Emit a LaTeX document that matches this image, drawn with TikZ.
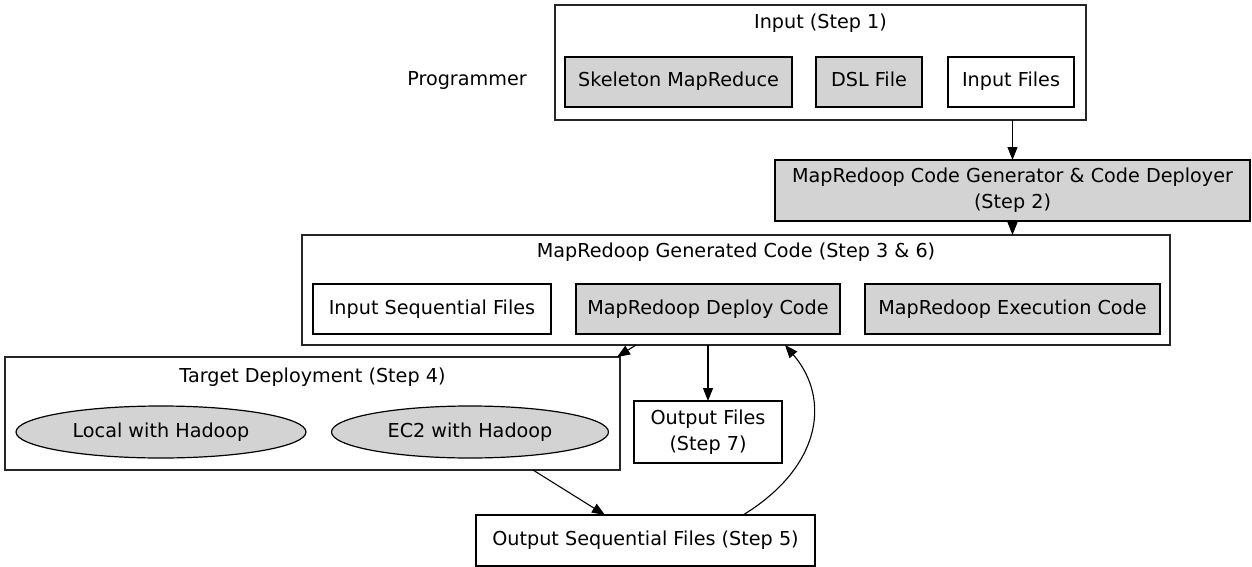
\documentclass[tikz,border=0pt]{standalone}
\usepackage{fontspec}
\setmainfont{DejaVu Sans}
\usetikzlibrary{shapes.geometric,arrows.meta,calc}
\definecolor{gvgray}{HTML}{D3D3D3}
\begin{document}
\begin{tikzpicture}[x=0.5pt,y=-0.5pt,
  font=\fontsize{9.6}{13}\selectfont,
  oneline/.style={text height=7.2pt, text depth=2.2pt},
  box/.style={draw, rectangle, inner sep=0pt, outer sep=0pt, line width=0.6pt},
  gbox/.style={box, fill=gvgray},
  cluster/.style={draw=black!85, rectangle, inner sep=0pt, outer sep=0pt, line width=0.7pt},
  ell/.style={draw, ellipse, fill=gvgray, inner sep=0pt, outer sep=0pt, line width=0.6pt, oneline},
  cltitle/.style={inner sep=0pt, oneline},
  arr/.style={-{Triangle[length=6.5pt,width=5pt]}, line width=0.55pt}]
\fill[white] (0,0) rectangle (1252,567);
\useasboundingbox (0,0) rectangle (1252,567);

% Step 1: inputs
\node[cluster, minimum width=265.5pt, minimum height=57.5pt] (inpc) at (820.5,62.5) {};
\node[cltitle] (inpt) at ($(inpc.north)+(0,19)$) {Input (Step 1)};
\node[gbox, oneline, minimum width=113.5pt, minimum height=25pt] (skel) at (678.5,82) {Skeleton MapReduce};
\node[gbox, oneline, minimum width=53pt, minimum height=25pt] (dsl) at (869,82) {DSL File};
\node[box, oneline, minimum width=63pt, minimum height=25pt] (infiles) at (1011,82) {Input Files};
\node[oneline] (prog) at (467,81) {Programmer};

% Step 2: generator
\node[gbox, minimum width=237.5pt, minimum height=30.5pt, align=center] (gen) at (1012.5,190.5)
  {MapRedoop Code Generator \& Code Deployer\\(Step 2)};

% Steps 3 & 6: generated code
\node[cluster, minimum width=434pt, minimum height=55pt] (genc) at (736,290) {};
\node[cltitle] (gent) at ($(genc.north)+(0,17)$) {MapRedoop Generated Code (Step 3 \& 6)};
\node[box, oneline, minimum width=119pt, minimum height=25pt] (insq) at (432,309) {Input Sequential Files};
\node[gbox, oneline, minimum width=132pt, minimum height=25pt] (dep) at (708,309) {MapRedoop Deploy Code};
\node[gbox, oneline, minimum width=147.5pt, minimum height=25pt] (exe) at (1012.5,309) {MapRedoop Execution Code};

% Step 4: deployment targets
\node[cluster, minimum width=307.5pt, minimum height=56.5pt] (tgt) at (312.5,413.5) {};
\node[cltitle] (tgtt) at ($(tgt.north)+(0,20)$) {Target Deployment (Step 4)};
\node[ell, minimum width=145pt, minimum height=26pt] (local) at (161,432) {Local with Hadoop};
\node[ell, minimum width=138.5pt, minimum height=26pt] (ec2) at (470,432) {EC2 with Hadoop};

% Outputs
\node[box, minimum width=74pt, minimum height=31pt, align=center] (outf) at (708,432) {Output Files\\(Step 7)};
\node[box, oneline, minimum width=169.5pt, minimum height=25.5pt] (outseq) at (645.5,540.5) {Output Sequential Files (Step 5)};

% Connectors
\draw[arr] (inpc.south -| gen.north) -- (gen.north);
\draw[arr] (gen.south) -- (gen.south |- genc.north);
\draw[arr] ($(genc.south west)+(334,0)$) -- ($(tgt.north east)+(-3,0)$);
\draw[arr] (outf.north |- genc.south) -- (outf.north);
\draw[arr] ($(tgt.south west)+(528,0)$) -- ($(outseq.north west)+(129,0)$);
\draw[arr] ($(outseq.north west)+(267,0)$) .. controls (820,468) and (832,400) .. ($(genc.south west)+(483,0)$);
\end{tikzpicture}
\end{document}
